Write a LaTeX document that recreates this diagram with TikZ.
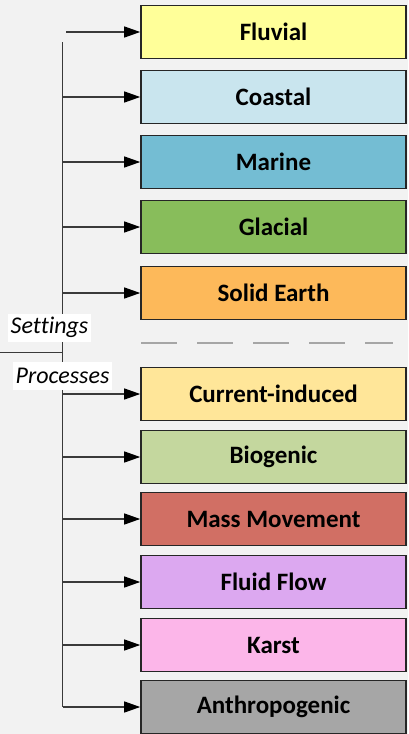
\documentclass[tikz,border=0pt]{standalone}
\usepackage{fontspec}
\setmainfont{Carlito}[Ligatures=NoCommon]
\usetikzlibrary{arrows.meta,shadows}
\definecolor{bg}{HTML}{F2F2F2}
\definecolor{wire}{HTML}{3A3A3A}
\definecolor{cFluvial}{HTML}{FFFF99}
\definecolor{cCoastal}{HTML}{C9E5EE}
\definecolor{cMarine}{HTML}{74BDD3}
\definecolor{cGlacial}{HTML}{88BD5B}
\definecolor{cSolid}{HTML}{FDB95A}
\definecolor{cCurrent}{HTML}{FFE699}
\definecolor{cBio}{HTML}{C4D79E}
\definecolor{cMass}{HTML}{D16F64}
\definecolor{cFluid}{HTML}{DCA8F0}
\definecolor{cKarst}{HTML}{FCB6E9}
\definecolor{cAnthro}{HTML}{A6A6A6}
\tikzset{
  catbox/.style={draw=black!85, line width=1.6pt, minimum width=265pt, minimum height=53pt,
    inner sep=0pt, font=\fontsize{25}{29}\selectfont\bfseries,
    drop shadow={opacity=0.18, shadow xshift=0.8pt, shadow yshift=-0.8pt}},
  feed/.style={draw=wire, line width=1.2pt, -{Triangle[length=16pt,width=11pt,color=black]}},
  trunk/.style={draw=wire, line width=1.2pt},
  tag/.style={fill=white, inner sep=0pt, minimum height=28pt, font=\fontsize{24}{28}\selectfont\itshape}
}
\begin{document}
\begin{tikzpicture}[x=1pt,y=-1pt]
  \fill[bg] (0,0) rectangle (408,734);
  \useasboundingbox (0,0) rectangle (408,734);

  % category boxes
  \node[catbox, fill=cFluvial] (fluvial) at (273.5,32) {Fluvial};
  \node[catbox, fill=cCoastal] (coastal) at (273.5,97) {Coastal};
  \node[catbox, fill=cMarine]  (marine)  at (273.5,162) {Marine};
  \node[catbox, fill=cGlacial] (glacial) at (273.5,227) {Glacial};
  \node[catbox, fill=cSolid]   (solid)   at (273.5,293) {Solid Earth};
  \node[catbox, fill=cCurrent] (current) at (273.5,394) {Current-induced};
  \node[catbox, fill=cBio]     (bio)     at (273.5,457) {Biogenic};
  \node[catbox, fill=cMass]    (mass)    at (273.5,519) {Mass Movement};
  \node[catbox, fill=cFluid]   (fluid)   at (273.5,582) {Fluid Flow};
  \node[catbox, fill=cKarst]   (karst)   at (273.5,645) {Karst};
  \node[catbox, fill=cAnthro]  (anthro)  at (273.5,707) {Anthropogenic};

  % separator between the two groups
  \coordinate (sepL) at (141,343);
  \coordinate (sepR) at (393,343);
  \draw[cAnthro, line width=1.6pt, dash pattern=on 36pt off 20pt] (sepL) -- (sepR);

  % trunk and group divider
  \coordinate (top) at (62.5,42);
  \coordinate (bottom) at (62.5,707);
  \coordinate (divL) at (0,352.5);
  \coordinate (divR) at (62.5,352.5);
  \draw[trunk] (top) -- (bottom);
  \draw[trunk] (divL) -- (divR);

  % feeds into the boxes
  \coordinate (fstart) at (66,32);
  \draw[feed] (fstart) -- (fluvial.west);
  \foreach \n in {coastal,marine,glacial,solid,current,bio,mass,fluid,karst,anthro}
    \draw[feed] (62.5,0 |- \n.west) -- (\n.west);

  % group labels
  \node[tag, minimum width=83pt] (settings) at (49.5,327.5) {Settings};
  \node[tag, minimum width=99pt] (processes) at (62.5,376) {Processes};
\end{tikzpicture}
\end{document}
